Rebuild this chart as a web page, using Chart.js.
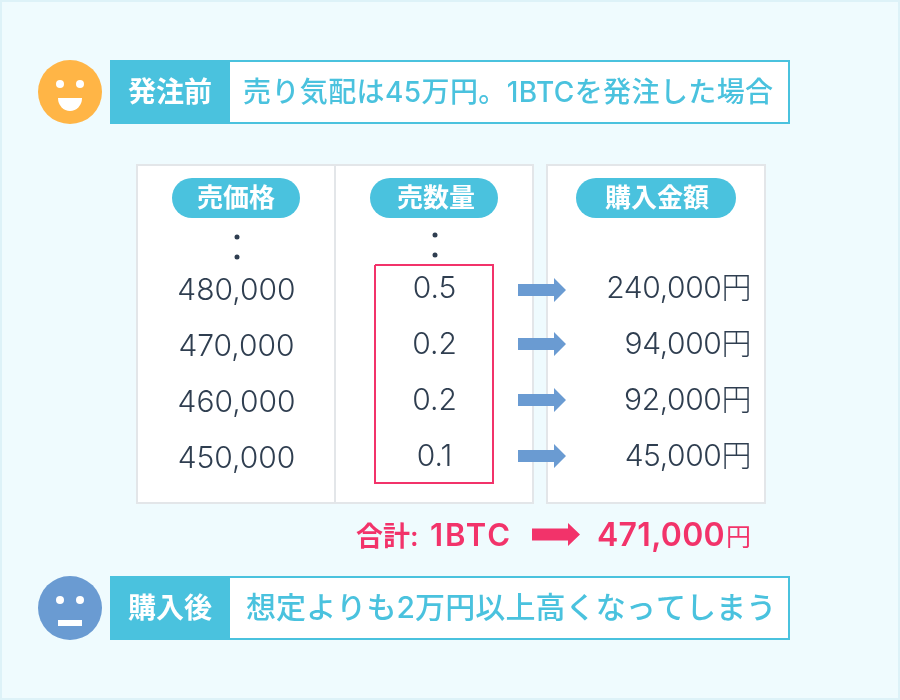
<!DOCTYPE html>
<html lang="ja">
<head>
<meta charset="utf-8">
<title>発注前 / 購入後</title>
<script src="https://cdn.jsdelivr.net/npm/chart.js@4"></script>
<style>
    html, body { margin: 0; padding: 0; background: #EFFBFE; }
    canvas { display: block; }
</style>
</head>
<body>
<canvas id="board" width="900" height="700"></canvas>
<script>
// Values
const prices = [480000, 470000, 460000, 450000];
const quantities = [0.5, 0.2, 0.2, 0.1];
const amounts = [240000, 94000, 92000, 45000];
const columnTitles = ['売価格', '売数量', '購入金額'];
const totalPrefix = '合計:';
const totalQuantity = '1BTC';
const totalAmount = 471000;
const beforeTag = '発注前';
const beforeText = '売り気配は45万円。1BTCを発注した場合';
const afterTag = '購入後';
const afterText = '想定よりも2万円以上高くなってしまう';

const CYAN = '#4AC2DE';
const BLUE = '#6A9BD2';
const ORANGE = '#FFB546';
const PINK = '#F2336A';
const INK = '#2F3E50';
const GRID = '#E3E6E9';
const LATIN_CJK = 'Inter, "Noto Sans CJK JP", sans-serif';

const rowStep = 56;
const priceBase = 300;
const otherBase = 298;
const arrowRows = [290, 344, 400, 456];

function drawText(ctx, text, x, y, font, colour, align, spacing) {
    ctx.font = font;
    ctx.fillStyle = colour;
    ctx.textAlign = align || 'left';
    ctx.textBaseline = 'alphabetic';
    ctx.letterSpacing = (spacing || 0) + 'px';
    ctx.fillText(text, x, y);
    ctx.letterSpacing = '0px';
}

// Everything that is not a point goes through the scales as well
const boardPlugin = {
    id: 'board',
    beforeDatasetsDraw(chart) {
        const ctx = chart.ctx;
        const X = v => chart.scales.x.getPixelForValue(v);
        const Y = v => chart.scales.y.getPixelForValue(v);
        const rect = (x0, y0, x1, y1) => [X(x0), Y(y0), X(x1) - X(x0), Y(y1) - Y(y0)];

        ctx.save();
        ctx.fillStyle = '#DDF2F8';
        ctx.fillRect(...rect(0, 0, 900, 700));
        ctx.fillStyle = '#EFFBFE';
        ctx.fillRect(...rect(2, 2, 898, 698));

        // banners
        [60, 576].forEach(top => {
            ctx.fillStyle = CYAN;
            ctx.fillRect(...rect(110, top, 790, top + 64));
            ctx.fillStyle = '#FFFFFF';
            ctx.fillRect(...rect(230, top + 2, 788, top + 62));
        });

        // table boxes
        [[136, 534], [546, 766]].forEach(([x0, x1]) => {
            ctx.fillStyle = GRID;
            ctx.fillRect(...rect(x0, 164, x1, 504));
            ctx.fillStyle = '#FFFFFF';
            ctx.fillRect(...rect(x0 + 2, 166, x1 - 2, 502));
        });
        ctx.fillStyle = GRID;
        ctx.fillRect(...rect(334, 164, 336, 504));
        ctx.restore();
    },
    afterDatasetsDraw(chart) {
        const ctx = chart.ctx;
        const X = v => chart.scales.x.getPixelForValue(v);
        const Y = v => chart.scales.y.getPixelForValue(v);
        const arrow = (x0, midY, shaft, head, tipLen, colour) => {
            ctx.fillStyle = colour;
            ctx.beginPath();
            ctx.moveTo(X(x0), Y(midY - shaft));
            ctx.lineTo(X(x0 + 36), Y(midY - shaft));
            ctx.lineTo(X(x0 + 36), Y(midY - head));
            ctx.lineTo(X(x0 + 36 + tipLen), Y(midY));
            ctx.lineTo(X(x0 + 36), Y(midY + head));
            ctx.lineTo(X(x0 + 36), Y(midY + shaft));
            ctx.lineTo(X(x0), Y(midY + shaft));
            ctx.closePath();
            ctx.fill();
        };

        ctx.save();

        // faces: the eyes are points, the mouths are not
        ctx.fillStyle = '#FFFFFF';
        ctx.beginPath();
        ctx.moveTo(X(58), Y(98));
        ctx.lineTo(X(82), Y(98));
        ctx.ellipse(X(70), Y(98), 12, 13, 0, 0, Math.PI);
        ctx.closePath();
        ctx.fill();
        ctx.fillRect(X(58), Y(620), X(82) - X(58), Y(626) - Y(620));

        // banner text
        drawText(ctx, beforeTag, X(170), Y(102), '600 28px ' + LATIN_CJK, '#FFFFFF', 'center');
        drawText(ctx, beforeText, X(243), Y(102), '500 28px ' + LATIN_CJK, CYAN, 'left', 0.4);
        drawText(ctx, afterTag, X(170), Y(618), '600 28px ' + LATIN_CJK, '#FFFFFF', 'center');
        drawText(ctx, afterText, X(246), Y(618), '500 30px ' + LATIN_CJK, CYAN, 'left', 0.1);

        // column headers
        [[172, 300, 236], [370, 498, 436], [576, 736, 657]].forEach(([x0, x1, mid], i) => {
            ctx.fillStyle = CYAN;
            ctx.beginPath();
            ctx.roundRect(X(x0), Y(178), X(x1) - X(x0), Y(218) - Y(178), 20);
            ctx.fill();
            drawText(ctx, columnTitles[i], X(mid), Y(207), '600 26px ' + LATIN_CJK, '#FFFFFF', 'center');
        });

        // table rows
        const light = '300 30px ' + LATIN_CJK;
        prices.forEach((p, i) => {
            drawText(ctx, p.toLocaleString('en-US'), X(236.5), Y(priceBase + i * rowStep), light, INK, 'center');
        });
        quantities.forEach((q, i) => {
            drawText(ctx, q.toFixed(1), X(434.5), Y(otherBase + i * rowStep), light, INK, 'center');
        });
        amounts.forEach((a, i) => {
            drawText(ctx, a.toLocaleString('en-US') + '円', X(751), Y(otherBase + i * rowStep), light, INK, 'right', -0.4);
            arrow(518, arrowRows[i], 6, 12, 12, BLUE);
        });

        // total line
        drawText(ctx, totalPrefix, X(356), Y(546), '600 27px ' + LATIN_CJK, PINK);
        drawText(ctx, totalQuantity, X(430), Y(546), '600 31px ' + LATIN_CJK, PINK, 'left', 2);
        arrow(532, 534.5, 6, 11.5, 12, PINK);
        drawText(ctx, totalAmount.toLocaleString('en-US'), X(725), Y(546), '600 32px ' + LATIN_CJK, PINK, 'right', 0.3);
        drawText(ctx, '円', X(751), Y(546), '400 25px ' + LATIN_CJK, PINK, 'right');

        ctx.restore();
    }
};

new Chart(document.getElementById('board'), {
    type: 'scatter',
    data: {
        // the first dataset is painted last, so the eyes come before the discs
        datasets: [
            {
                // eyes
                data: [{x: 60, y: 84}, {x: 80, y: 84}, {x: 60, y: 600}, {x: 80, y: 600}],
                pointRadius: 4,
                backgroundColor: '#FFFFFF',
                borderWidth: 0
            },
            {
                // face discs
                data: [{x: 70, y: 92}],
                pointRadius: 32,
                backgroundColor: ORANGE,
                borderWidth: 0
            },
            {
                data: [{x: 70, y: 608}],
                pointRadius: 32,
                backgroundColor: BLUE,
                borderWidth: 0
            },
            {
                // vertical ellipsis above the rows
                data: [{x: 237, y: 237}, {x: 237, y: 257}, {x: 435, y: 235}, {x: 435, y: 255}],
                pointRadius: 2.5,
                backgroundColor: INK,
                borderWidth: 0
            },
            {
                // box around the filled quantities
                type: 'line',
                data: [{x: 375, y: 265}, {x: 493, y: 265}, {x: 493, y: 483}, {x: 375, y: 483}, {x: 375, y: 265}],
                borderColor: PINK,
                borderWidth: 2,
                pointRadius: 0,
                fill: false,
                tension: 0
            }
        ]
    },
    plugins: [boardPlugin],
    options: {
        responsive: false,
        animation: false,
        layout: { padding: 0, autoPadding: false },
        plugins: { legend: { display: false }, tooltip: { enabled: false }, title: { display: false } },
        scales: {
            x: { type: 'linear', min: 0, max: 900, display: false },
            y: { type: 'linear', min: 0, max: 700, reverse: true, display: false }
        }
    }
});
</script>
</body>
</html>
